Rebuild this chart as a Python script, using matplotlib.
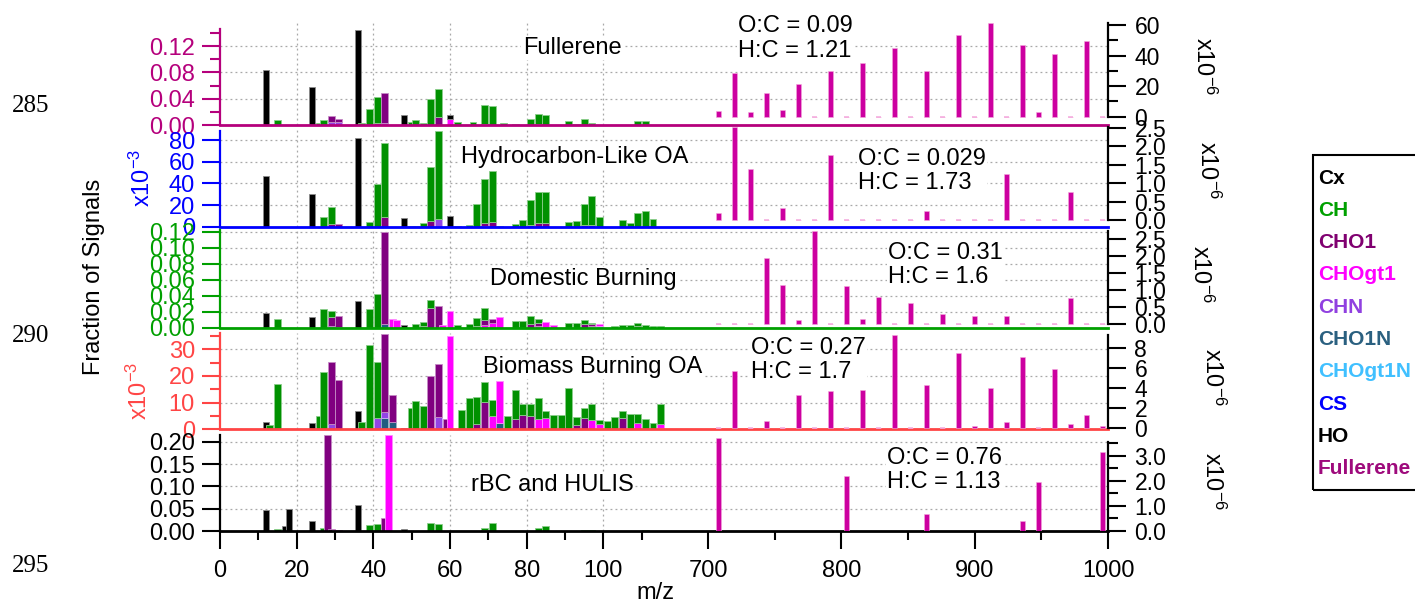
import numpy as np
import matplotlib
matplotlib.use("Agg")
import matplotlib.pyplot as plt
from matplotlib.colors import to_rgb
from matplotlib.patches import Rectangle

plt.rcParams["font.family"] = ["Liberation Sans", "DejaVu Sans"]
plt.rcParams["mathtext.fontset"] = "custom"
plt.rcParams["mathtext.rm"] = "Liberation Sans"
plt.rcParams["mathtext.it"] = "Liberation Sans:italic"
plt.rcParams["mathtext.default"] = "regular"

# ------------------------------------------------------------------ data
FAMILIES = ["Cx", "CH", "CHO1", "CHOgt1", "CHN", "CHO1N", "CHOgt1N", "CS", "HO", "Fullerene"]
STACK_ORDER = ["CS", "CHOgt1N", "CHO1N", "CHN", "CHOgt1", "CHO1", "CH", "HO", "Cx"]

PANEL_TITLES = ["Fullerene", "Hydrocarbon-Like OA", "Domestic Burning",
                "Biomass Burning OA", "rBC and HULIS"]
OC_RATIOS = ["0.09", "0.029", "0.31", "0.27", "0.76"]
HC_RATIOS = ["1.21", "1.73", "1.6", "1.7", "1.13"]

# Fullerene factor, low m/z (fraction of signal)
FUL_CX = {12: 0.0836, 24: 0.057, 36: 0.145, 48: 0.0147, 60: 0.0056}
FUL_CH = {15: 0.007, 26: 0.0035, 27: 0.0076, 37: 0.0025, 39: 0.0243, 41: 0.0395,
          50: 0.005, 51: 0.0076, 53: 0.003, 55: 0.040, 57: 0.0413, 62: 0.004,
          66: 0.004, 69: 0.028, 71: 0.029, 74: 0.0025, 77: 0.002, 81: 0.009,
          83: 0.0157, 85: 0.0147, 91: 0.006, 93: 0.002, 95: 0.009, 97: 0.003,
          109: 0.0055, 111: 0.0055}
FUL_CHO1 = {29: 0.0097, 31: 0.0045, 41: 0.0035, 43: 0.045, 57: 0.0127, 83: 0.001}
FUL_CHOGT1 = {60: 0.0096, 69: 0.002}
FUL_CHN = {29: 0.004, 31: 0.0046, 43: 0.003}

# Hydrocarbon-like OA (x10^-3)
HOA_CX = {12: 46.4, 24: 30.5, 36: 81.5, 48: 7.6, 60: 9.8}
HOA_CH = {27: 9.2, 29: 15.9, 39: 4.6, 41: 39.0, 43: 68.4, 50: 1.0, 51: 1.0, 53: 3.0,
          55: 49.8, 57: 81.8, 62: 1.0, 65: 1.5, 67: 20.5, 69: 40.6, 71: 47.3,
          73: 1.0, 77: 2.4, 79: 6.0, 81: 23.0, 83: 29.4, 85: 29.4, 91: 4.3,
          93: 5.2, 95: 19.4, 97: 26.1, 99: 8.8, 105: 5.8, 107: 3.7, 109: 12.2,
          111: 14.7, 113: 6.7}
HOA_CHO1 = {29: 2.4, 31: 2.4, 43: 9.2, 55: 5.2, 69: 3.0, 71: 4.3, 81: 2.0,
            83: 3.0, 85: 3.0, 95: 2.0, 97: 2.0}
HOA_CHOGT1 = {69: 0.8}
HOA_CHN = {57: 6.7}

# Domestic burning (fraction of signal)
DOM_CX = {12: 0.0179, 24: 0.0137, 36: 0.033, 48: 0.0033}
DOM_CH = {15: 0.0108, 27: 0.023, 29: 0.008, 39: 0.023, 41: 0.042, 51: 0.0046,
          53: 0.0055, 55: 0.010, 62: 0.003, 65: 0.004, 67: 0.009, 69: 0.014,
          77: 0.0083, 79: 0.0083, 81: 0.010, 83: 0.004, 91: 0.006, 93: 0.006,
          95: 0.0056, 97: 0.002, 103: 0.002, 105: 0.003, 107: 0.003, 109: 0.004,
          111: 0.003, 113: 0.002, 115: 0.002}
DOM_CHO1 = {29: 0.011, 31: 0.013, 43: 0.1154, 53: 0.002, 55: 0.025, 57: 0.027,
            67: 0.0027, 69: 0.007, 71: 0.0044, 81: 0.004, 83: 0.004, 95: 0.004,
            97: 0.002, 109: 0.002}
DOM_CHOGT1 = {45: 0.0104, 46: 0.009, 58: 0.003, 60: 0.021, 69: 0.003, 71: 0.006,
              73: 0.013, 83: 0.0024, 85: 0.0067, 87: 0.003, 97: 0.001, 99: 0.0026}
DOM_CHN = {29: 0.002, 31: 0.001}
DOM_CHO1N = {43: 0.0046}
DOM_CHOGT1N = {97: 0.001, 99: 0.002}

# Biomass burning OA (x10^-3)
BB_CX = {12: 2.9, 24: 2.2, 36: 6.8, 48: 0.6}
BB_CH = {13: 1.6, 15: 16.9, 26: 5.0, 27: 21.5, 37: 2.9, 39: 31.6, 41: 20.9,
         50: 8.0, 51: 10.7, 53: 8.8, 63: 7.2, 65: 11.9, 67: 10.0, 69: 7.6, 71: 5.9,
         75: 5.0, 77: 10.7, 79: 4.1, 81: 4.5, 83: 7.6, 85: 2.7, 87: 5.3, 89: 5.3,
         91: 15.5, 93: 3.0, 95: 3.8, 97: 6.0, 99: 1.5, 101: 3.2, 103: 4.5,
         105: 2.7, 107: 5.7, 109: 3.2, 111: 3.7, 113: 2.2, 115: 7.4}
BB_CHO1 = {29: 23.3, 31: 18.6, 43: 29.2, 45: 10.0, 55: 20.0, 57: 19.9, 59: 3.7,
           67: 2.0, 69: 10.3, 77: 4.0, 79: 5.2, 81: 4.8, 93: 1.7, 95: 4.3, 105: 4.3}
BB_CHOGT1 = {60: 34.8, 71: 5.0, 73: 15.8, 83: 4.0, 85: 4.3, 97: 3.3, 99: 1.4,
             109: 2.5, 115: 1.5}
BB_CHN = {29: 2.0, 41: 4.3, 43: 2.5, 57: 4.7}
BB_CHO1N = {43: 4.1, 45: 2.8, 73: 2.2}
BB_CHOGT1N = {99: 0.5, 115: 0.5}

# rBC and HULIS (fraction of signal)
RBC_CX = {12: 0.047, 24: 0.023, 36: 0.058, 48: 0.005}
RBC_HO = {17: 0.011, 18: 0.0485}
RBC_CH = {15: 0.0045, 27: 0.006, 39: 0.0127, 41: 0.015, 55: 0.017, 57: 0.015,
          69: 0.004, 71: 0.019, 83: 0.006, 85: 0.011, 95: 0.002, 97: 0.002,
          111: 0.002}
RBC_CHO1 = {28: 0.215, 29: 0.004, 31: 0.003, 43: 0.028}
RBC_CHOGT1 = {44: 0.215, 60: 0.001, 69: 0.002}
RBC_CHN = {30: 0.002}

# Fullerene ions C59..C83 (x10^-6)
FULLERENE_MZ = [708, 720, 732, 744, 756, 768, 780, 792, 804, 816, 828, 840, 852,
                864, 876, 888, 900, 912, 924, 936, 948, 960, 972, 984, 996]
FUL_HIGH = [3.7, 28.4, 2.8, 15.7, 4.4, 21.4, 0, 30.1, 0, 34.9, 0, 45.2, 0,
            29.7, 0, 53.5, 0, 61.1, 0, 46.9, 2.8, 40.8, 0, 49.5, 0]
HOA_HIGH = [0.18, 2.54, 1.38, 0, 0.34, 0, 0, 1.76, 0, 0, 0, 0, 0,
            0.24, 0, 0, 0, 0, 1.26, 0, 0, 0, 0.75, 0, 0]
DOM_HIGH = [0, 0, 0, 1.93, 1.15, 0.12, 2.74, 0, 1.12, 0.15, 0.80, 0, 0.63,
            0, 0.28, 0, 0.22, 0, 0.22, 0, 0, 0, 0.75, 0, 0]
BB_HIGH = [0, 5.68, 0, 0.64, 0, 3.26, 0, 3.70, 0, 3.76, 0, 9.35, 0,
           4.27, 0, 7.56, 0.13, 4.0, 0.54, 7.16, 0, 5.88, 0.37, 1.24, 0.13]
RBC_HIGH = [3.7, np.nan, np.nan, np.nan, np.nan, np.nan, np.nan, np.nan, 2.2,
            np.nan, np.nan, np.nan, np.nan, 0.67, np.nan, np.nan, np.nan, np.nan,
            np.nan, 0.40, 1.96, np.nan, np.nan, np.nan, 3.15]

PANEL_LOW = [
    {"Cx": FUL_CX, "CH": FUL_CH, "CHO1": FUL_CHO1, "CHOgt1": FUL_CHOGT1, "CHN": FUL_CHN},
    {"Cx": HOA_CX, "CH": HOA_CH, "CHO1": HOA_CHO1, "CHOgt1": HOA_CHOGT1, "CHN": HOA_CHN},
    {"Cx": DOM_CX, "CH": DOM_CH, "CHO1": DOM_CHO1, "CHOgt1": DOM_CHOGT1, "CHN": DOM_CHN,
     "CHO1N": DOM_CHO1N, "CHOgt1N": DOM_CHOGT1N},
    {"Cx": BB_CX, "CH": BB_CH, "CHO1": BB_CHO1, "CHOgt1": BB_CHOGT1, "CHN": BB_CHN,
     "CHO1N": BB_CHO1N, "CHOgt1N": BB_CHOGT1N},
    {"Cx": RBC_CX, "HO": RBC_HO, "CH": RBC_CH, "CHO1": RBC_CHO1, "CHOgt1": RBC_CHOGT1,
     "CHN": RBC_CHN},
]
PANEL_HIGH = [FUL_HIGH, HOA_HIGH, DOM_HIGH, BB_HIGH, RBC_HIGH]

# left-axis ticks (major, labels, minor) and right-axis ticks per panel
LEFT_MAJOR = [[0, 0.04, 0.08, 0.12], [0, 20, 40, 60, 80],
              [0, 0.02, 0.04, 0.06, 0.08, 0.10, 0.12], [0, 10, 20, 30],
              [0, 0.05, 0.10, 0.15, 0.20]]
LEFT_LABELS = [["0.00", "0.04", "0.08", "0.12"], ["0", "20", "40", "60", "80"],
               ["0.00", "0.02", "0.04", "0.06", "0.08", "0.10", "0.12"],
               ["0", "10", "20", "30"], ["0.00", "0.05", "0.10", "0.15", "0.20"]]
LEFT_MINOR = [[0.02, 0.06, 0.10, 0.14], [], [], [5, 15, 25, 35], []]
RIGHT_MAJOR = [[0, 20, 40, 60], [0, 0.5, 1.0, 1.5, 2.0, 2.5],
               [0, 0.5, 1.0, 1.5, 2.0, 2.5], [0, 2, 4, 6, 8], [0, 1, 2, 3]]
RIGHT_LABELS = [["0", "20", "40", "60"], ["0.0", "0.5", "1.0", "1.5", "2.0", "2.5"],
                ["0.0", "0.5", "1.0", "1.5", "2.0", "2.5"], ["0", "2", "4", "6", "8"],
                ["0.0", "1.0", "2.0", "3.0"]]
RIGHT_MINOR = [[10, 30, 50], [], [], [], [0.5, 1.5, 2.5, 3.5]]

X_MAJOR = [0, 20, 40, 60, 80, 100, 700, 800, 900, 1000]
X_LABELS = ["0", "20", "40", "60", "80", "100", "700", "800", "900", "1000"]
X_MINOR = [10, 30, 50, 70, 90, 110, 750, 850, 950]

# ------------------------------------------------------------------ style
W, H = 1415, 603
BAR_COLORS = {"Cx": "#000000", "CH": "#009100", "CHO1": "#800080", "CHOgt1": "#ff00ff",
              "CHN": "#9244e6", "CHO1N": "#215c80", "CHOgt1N": "#45c5ff",
              "CS": "#0000ff", "HO": "#000000"}
LEGEND_COLORS = ["#000000", "#00a000", "#800070", "#ff00ff", "#9040e0", "#2a6080",
                 "#40c0ff", "#0000ff", "#000000", "#9e0a7c"]
FULL_COLOR = "#cc00a0"
FULL_EDGE = "#f4a8dc"
AXIS_COLORS = ["#b5007c", "#0000ff", "#00a000", "#ff4545", "#000000"]
GRID_KW = dict(color="#a8a8a8", linestyle=(0, (1.5, 2.5)), linewidth=0.9)

ROW_BOX = [(23.3, 125.0), (126.7, 226.7), (230.0, 327.7), (333.3, 429.3), (435.0, 531.0)]
LEFT_YLIM = [(0, 0.1545), (0, 92.3), (0, 0.1221), (0, 36.0), (0, 0.215)]
LEFT_SPINE_TOP = [0.146, 88.6, 0.1221, 36.0, 0.215]
RIGHT_YLIM = [(-5.43, 61.1), (-0.18, 2.535), (-0.11, 2.76), (-0.16, 9.52), (-0.012, 3.83)]
RIGHT_SPINE_TOP = [61.1, 2.535, 2.74, 9.35, 3.56]
X0, X1 = 220, 1108

# broken m/z axis: 0-116.4 and 668.5-1000 on one axis
L_END, R_START, R_FACTOR = 116.4, 668.5, 0.3477
XP = [-1e4, L_END, R_START, 1e5]
UP = [-1e4, L_END, L_END + 1e-3, L_END + 1e-3 + (1e5 - R_START) * R_FACTOR]


def fwd(m):
    return np.interp(m, XP, UP)


def inv(u):
    return np.interp(u, UP, XP)


def lighten(c, f=0.5):
    r, g, b = to_rgb(c)
    return (r + (1 - r) * f, g + (1 - g) * f, b + (1 - b) * f)


def fx(px):
    return px / W


def fy(py):
    return 1 - py / H


def draw_stack(ax, fams):
    mzs = sorted(set().union(*[d.keys() for d in fams.values()]))
    base = {m: 0.0 for m in mzs}
    for fam in STACK_ORDER:
        d = fams.get(fam)
        if not d:
            continue
        xs = sorted(d)
        hs = [d[m] for m in xs]
        bs = [base[m] for m in xs]
        bars = ax.bar(xs, hs, width=1.75, bottom=bs, color=BAR_COLORS[fam],
                      edgecolor=lighten(BAR_COLORS[fam], 0.55), linewidth=0.6)
        for m, p in zip(xs, bars.patches):
            p.set_zorder(2 + mzs.index(m) * 0.01)
        for m in xs:
            base[m] += d[m]


fig = plt.figure(figsize=(W / 100, H / 100), dpi=100)

for i in range(5):
    top, bot = ROW_BOX[i]
    c = AXIS_COLORS[i]
    ax = fig.add_axes([fx(X0), fy(bot), (X1 - X0) / W, (bot - top) / H])
    ax.set_xscale("function", functions=(fwd, inv))
    ax.set_xlim(0, 1000)
    ax.set_ylim(*LEFT_YLIM[i])
    ax.patch.set_visible(False)
    ax.set_axisbelow(True)

    draw_stack(ax, PANEL_LOW[i])

    # grid
    ax.yaxis.grid(True, which="major", **GRID_KW)
    ax.xaxis.grid(False)
    for xv in [20, 40, 60, 80, 100]:
        ax.axvline(xv, zorder=0.5, **GRID_KW)

    # spines
    ax.spines["top"].set_visible(False)
    ax.spines["right"].set_visible(False)
    ax.spines["left"].set_color(c)
    ax.spines["left"].set_linewidth(1.6)
    ax.spines["left"].set_bounds(0, LEFT_SPINE_TOP[i])
    ax.spines["bottom"].set_color(c)
    ax.spines["bottom"].set_linewidth(2.0)
    ax.spines["bottom"].set_zorder(5)

    ax.set_yticks(LEFT_MAJOR[i])
    ax.set_yticklabels(LEFT_LABELS[i])
    ax.set_yticks(LEFT_MINOR[i], minor=True)
    ax.tick_params(axis="y", which="both", direction="out", colors=c,
                   labelsize=17, width=1.5, pad=5)
    ax.tick_params(axis="y", which="major", length=13)
    ax.tick_params(axis="y", which="minor", length=7)

    if i < 4:
        ax.tick_params(axis="x", which="both", bottom=False, labelbottom=False)
    else:
        ax.set_xticks(X_MAJOR)
        ax.set_xticklabels(X_LABELS)
        ax.set_xticks(X_MINOR, minor=True)
        ax.tick_params(axis="x", which="both", direction="out", colors="black",
                       labelsize=17, width=1.5, pad=8)
        ax.tick_params(axis="x", which="major", length=13)
        ax.tick_params(axis="x", which="minor", length=6.5)

    # right axis: fullerene ions
    ax2 = ax.twinx()
    ax2.set_ylim(*RIGHT_YLIM[i])
    vals = np.array(PANEL_HIGH[i], dtype=float)
    ax2.bar(FULLERENE_MZ, vals, width=3.6, color=FULL_COLOR, edgecolor=FULL_EDGE,
            linewidth=0.4, zorder=2)
    zero = [m for m, v in zip(FULLERENE_MZ, vals) if v == 0]
    if zero:
        ax2.bar(zero, [0] * len(zero), width=3.6, color="none", edgecolor=FULL_EDGE,
                linewidth=1.1, zorder=2)
    for s in ["left", "top", "bottom"]:
        ax2.spines[s].set_visible(False)
    ax2.spines["right"].set_color("black")
    ax2.spines["right"].set_linewidth(1.6)
    ax2.spines["right"].set_bounds(0, RIGHT_SPINE_TOP[i])
    ax2.set_yticks(RIGHT_MAJOR[i])
    ax2.set_yticklabels(RIGHT_LABELS[i])
    ax2.set_yticks(RIGHT_MINOR[i], minor=True)
    ax2.tick_params(axis="y", which="both", direction="out", colors="black",
                    labelsize=16.5, width=1.5, pad=6)
    ax2.tick_params(axis="y", which="major", length=13)
    ax2.tick_params(axis="y", which="minor", length=7)

# panel titles and elemental ratios
TITLE_POS = [(572, 48), (575, 157), (583, 279), (593, 367), (552, 485)]
RATIO_POS = [(738, 38.5), (858, 171), (888, 265), (751, 360), (887, 470)]
box = dict(facecolor="white", edgecolor="none", pad=1.0)
for i in range(5):
    tx, ty = TITLE_POS[i]
    fig.text(fx(tx), fy(ty), PANEL_TITLES[i], fontsize=17, ha="center", va="center",
             bbox=box, zorder=4)
    rx, ry = RATIO_POS[i]
    fig.text(fx(rx), fy(ry), f"O:C = {OC_RATIOS[i]}\nH:C = {HC_RATIOS[i]}",
             fontsize=17, ha="left", va="center", linespacing=1.12, bbox=box, zorder=4)

# axis labels
fig.text(fx(94), fy(277), "Fraction of Signals", rotation=90, fontsize=17,
         ha="center", va="center")
fig.text(fx(655), fy(593), "m/z", fontsize=17, ha="center", va="center")
fig.text(fx(142), fy(178), r"x10$^{-3}$", rotation=90, color=AXIS_COLORS[1],
         fontsize=17, ha="center", va="center")
fig.text(fx(139), fy(391), r"x10$^{-3}$", rotation=90, color=AXIS_COLORS[3],
         fontsize=17, ha="center", va="center")
for (px_, py_) in [(1204, 66), (1208, 170), (1201, 274), (1213, 377), (1213, 481)]:
    fig.text(fx(px_), fy(py_), r"x10$^{-6}$", rotation=270, fontsize=17,
             ha="center", va="center")

# manuscript line numbers
for num, py_ in [("285", 106), ("290", 336), ("295", 566)]:
    fig.text(fx(31), fy(py_), num, family="Liberation Serif", fontsize=18,
             ha="center", va="center")

# family legend
fig.add_artist(Rectangle((fx(1313), fy(490)), (1450 - 1313) / W, 335 / H,
                         transform=fig.transFigure, fill=False, edgecolor="black",
                         linewidth=1.5, clip_on=False))
for k, (name, col) in enumerate(zip(FAMILIES, LEGEND_COLORS)):
    fig.text(fx(1318), fy(178 + 32.3 * k), name, color=col, fontsize=15,
             fontweight="bold", ha="left", va="center")

fig.savefig("out.png", dpi=100)
